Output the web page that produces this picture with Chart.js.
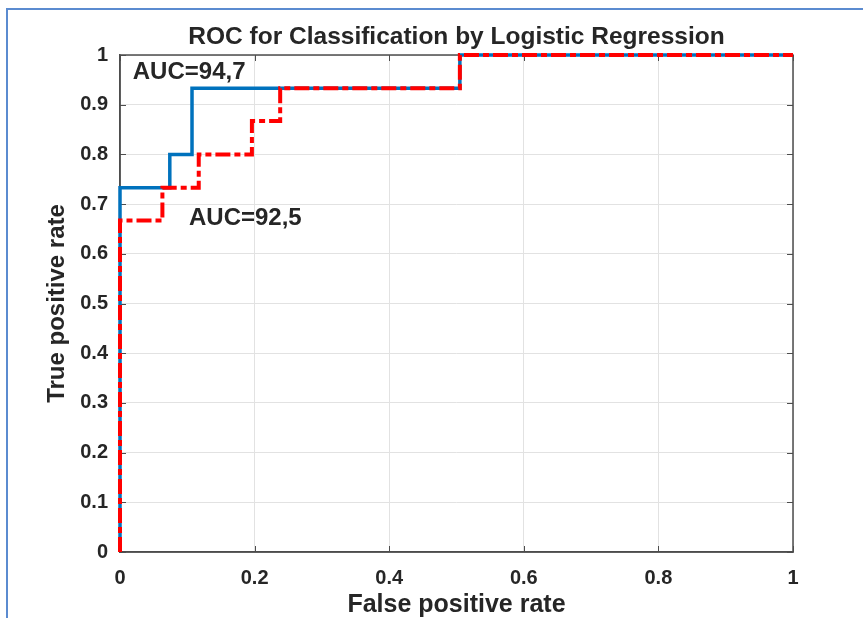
<!DOCTYPE html>
<html>
<head>
<meta charset="utf-8">
<title>ROC for Classification by Logistic Regression</title>
<script src="https://cdn.jsdelivr.net/npm/chart.js@4/dist/chart.umd.min.js"></script>
<style>
  html, body { margin: 0; padding: 0; background: #fff; }
  #wrap { position: relative; width: 863px; height: 618px; overflow: hidden; }
  #frame {
    position: absolute; left: 6px; top: 8px; width: 900px; height: 700px;
    border-left: 2px solid #5b8bd0; border-top: 2px solid #5b8bd0;
    pointer-events: none;
  }
  #roc { position: absolute; left: 0; top: 0; }
</style>
</head>
<body>
<div id="wrap">
  <div id="frame"></div>
  <canvas id="roc" width="863" height="618"></canvas>
</div>
<script>
// ROC curve vertices (false positive rate, true positive rate)
const fprModelA = [0, 0, 0.074, 0.074, 0.107, 0.107, 0.505, 0.505, 1];
const tprModelA = [0, 0.733, 0.733, 0.8, 0.8, 0.933, 0.933, 1, 1];
const fprModelB = [0, 0, 0.063, 0.063, 0.117, 0.117, 0.196, 0.196, 0.238, 0.238, 0.505, 0.505, 1];
const tprModelB = [0, 0.667, 0.667, 0.733, 0.733, 0.8, 0.8, 0.867, 0.867, 0.933, 0.933, 1, 1];

// axis ticks
const xTickValues = [0, 0.2, 0.4, 0.6, 0.8, 1];
const xTickLabels = ['0', '0.2', '0.4', '0.6', '0.8', '1'];
const yTickValues = [0, 0.1, 0.2, 0.3, 0.4, 0.5, 0.6, 0.7, 0.8, 0.9, 1];
const yTickLabels = ['0', '0.1', '0.2', '0.3', '0.4', '0.5', '0.6', '0.7', '0.8', '0.9', '1'];

// AUC text labels, placed in data coordinates
const aucText = ['AUC=94,7', 'AUC=92,5'];
const aucX = [0.019, 0.1025];
const aucY = [0.966, 0.672];

const FONT = "'Liberation Sans', Arial, Helvetica, sans-serif";
const INK = '#262626';
const AXIS = '#4d4d4d';

const toPoints = (xs, ys) => xs.map((x, i) => ({ x: x, y: ys[i] }));

// box around the axes + inward tick marks on all four sides
const axesBox = {
  id: 'axesBox',
  beforeDatasetsDraw(chart) {
    const { ctx, chartArea: a, scales } = chart;
    ctx.save();
    ctx.strokeStyle = AXIS;
    ctx.lineWidth = 1;
    ctx.beginPath();
    xTickValues.forEach(v => {
      const px = Math.round(scales.x.getPixelForValue(v)) + 0.5;
      ctx.moveTo(px, a.bottom); ctx.lineTo(px, a.bottom - 6);
      ctx.moveTo(px, a.top); ctx.lineTo(px, a.top + 6);
    });
    yTickValues.forEach(v => {
      const py = Math.round(scales.y.getPixelForValue(v)) + 0.5;
      ctx.moveTo(a.left, py); ctx.lineTo(a.left + 6, py);
      ctx.moveTo(a.right, py); ctx.lineTo(a.right - 6, py);
    });
    ctx.stroke();
    ctx.lineWidth = 1.5;
    ctx.strokeRect(a.left, a.top, a.right - a.left, a.bottom - a.top);
    ctx.restore();
  }
};

// AUC annotations
const aucLabels = {
  id: 'aucLabels',
  afterDraw(chart) {
    const { ctx, scales } = chart;
    ctx.save();
    ctx.fillStyle = INK;
    ctx.font = 'bold 24px ' + FONT;
    ctx.textAlign = 'left';
    ctx.textBaseline = 'middle';
    aucText.forEach((t, i) => {
      ctx.fillText(t, scales.x.getPixelForValue(aucX[i]), scales.y.getPixelForValue(aucY[i]));
    });
    ctx.restore();
  }
};

new Chart(document.getElementById('roc'), {
  type: 'scatter',
  data: {
    datasets: [
      {
        label: 'Model B',
        data: toPoints(fprModelB, tprModelB),
        showLine: true,
        borderColor: '#ff0000',
        borderWidth: 4,
        borderDash: [15, 4, 6, 4],
        borderCapStyle: 'butt',
        pointRadius: 0,
        tension: 0,
        clip: 6,
        order: 0
      },
      {
        label: 'Model A',
        data: toPoints(fprModelA, tprModelA),
        showLine: true,
        borderColor: '#0072bd',
        borderWidth: 3.5,
        pointRadius: 0,
        tension: 0,
        clip: 6,
        order: 1
      }
    ]
  },
  options: {
    responsive: false,
    animation: false,
    devicePixelRatio: 1,
    layout: { padding: { left: 0, right: 70, top: 0, bottom: 0 } },
    plugins: {
      legend: { display: false },
      tooltip: { enabled: false },
      title: {
        display: true,
        fullSize: false,
        text: 'ROC for Classification by Logistic Regression',
        color: INK,
        font: { family: FONT, size: 24.5, weight: 'bold', lineHeight: 1.2 },
        padding: { top: 23, bottom: 2.6 }
      }
    },
    scales: {
      x: {
        type: 'linear',
        min: 0,
        max: 1,
        afterBuildTicks: s => { s.ticks = xTickValues.map(v => ({ value: v })); },
        afterFit: s => { s.height = 66; },
        ticks: {
          color: INK,
          padding: 14,
          maxRotation: 0,
          font: { family: FONT, size: 20, weight: 'bold' },
          callback: (v, i) => xTickLabels[i]
        },
        grid: { color: '#e2e2e2', lineWidth: 1, drawTicks: false },
        border: { display: true, color: AXIS, width: 1.5 },
        title: {
          display: true,
          text: 'False positive rate',
          color: INK,
          font: { family: FONT, size: 25, weight: 'bold', lineHeight: 1 },
          padding: { top: 0, bottom: 0 }
        }
      },
      y: {
        type: 'linear',
        min: 0,
        max: 1,
        afterBuildTicks: s => { s.ticks = yTickValues.map(v => ({ value: v })); },
        afterFit: s => { s.width = 120; },
        ticks: {
          color: INK,
          padding: 12,
          font: { family: FONT, size: 20, weight: 'bold' },
          callback: (v, i) => yTickLabels[i]
        },
        grid: { color: '#e2e2e2', lineWidth: 1, drawTicks: false },
        border: { display: true, color: AXIS, width: 1.5 },
        title: {
          display: true,
          text: 'True positive rate',
          color: INK,
          font: { family: FONT, size: 24, weight: 'bold', lineHeight: 1.2 },
          padding: { top: 43, bottom: 0 }
        }
      }
    }
  },
  plugins: [axesBox, aucLabels]
});
</script>
</body>
</html>
